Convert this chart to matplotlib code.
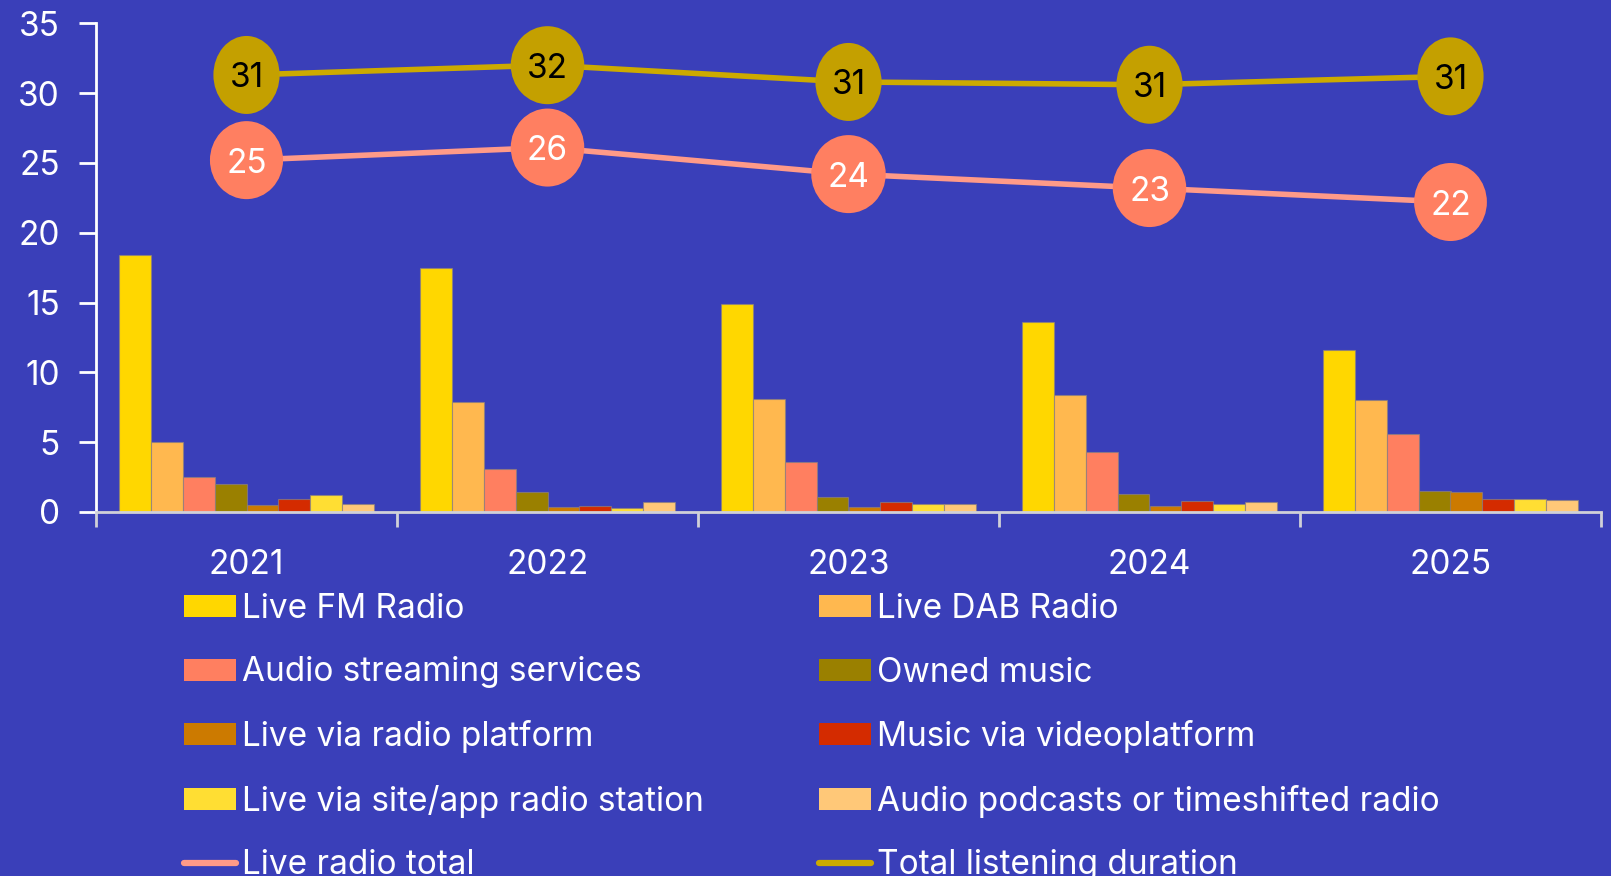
import matplotlib
matplotlib.use("Agg")
import matplotlib.pyplot as plt
import numpy as np
from matplotlib import transforms
from matplotlib.patches import Patch, Ellipse
from matplotlib.lines import Line2D
from matplotlib.textpath import TextPath
from matplotlib.font_manager import FontProperties

# data (hours per week)
years = ["2021", "2022", "2023", "2024", "2025"]
live_fm = [18.4, 17.5, 14.9, 13.6, 11.6]
live_dab = [5.0, 7.9, 8.1, 8.4, 8.0]
streaming = [2.5, 3.1, 3.6, 4.3, 5.6]
owned_music = [2.0, 1.4, 1.1, 1.3, 1.5]
radio_platform = [0.5, 0.35, 0.35, 0.4, 1.4]
video_platform = [0.9, 0.45, 0.75, 0.8, 0.9]
site_app = [1.2, 0.3, 0.6, 0.6, 0.9]
podcasts = [0.6, 0.75, 0.6, 0.7, 0.85]
live_radio_total = [25.2, 26.1, 24.2, 23.2, 22.2]
total_listening = [31.3, 32.0, 30.8, 30.6, 31.2]

bar_names = ["Live FM Radio", "Live DAB Radio", "Audio streaming services",
             "Owned music", "Live via radio platform", "Music via videoplatform",
             "Live via site/app radio station", "Audio podcasts or timeshifted radio"]
bar_values = [live_fm, live_dab, streaming, owned_music, radio_platform,
              video_platform, site_app, podcasts]
bar_colors = ["#FFD700", "#FFB84F", "#FF7F60", "#9A8000", "#CC7A00",
              "#D42B00", "#FFDE33", "#FFC878"]

BG = "#3A3FB9"
FS = 24
FONT = ["Inter", "DejaVu Sans"]
plt.rcParams["font.family"] = FONT

W, H = 1611, 876
fig = plt.figure(figsize=(W / 100, H / 100), dpi=100, facecolor=BG)
ax = fig.add_axes([96 / W, 1 - 512 / H, (1601 - 96) / W, (512 - 23.3) / H])
ax.set_facecolor(BG)

x = np.arange(len(years))
n = len(bar_values)
bw = 0.1055
for i, (vals, col) in enumerate(zip(bar_values, bar_colors)):
    ax.bar(x + (i - (n - 1) / 2) * bw, vals, width=bw, color=col,
           edgecolor=(0.55, 0.5, 0.5, 0.7), linewidth=0.8, zorder=2)

live_line = "#FF9A88"
total_line = "#CCAA00"
ax.plot(x, live_radio_total, color=live_line, lw=4, zorder=3)
ax.plot(x, total_listening, color=total_line, lw=4, zorder=3)

ax.set_xlim(-0.5, 4.5)
ax.set_ylim(0, 35)

fp = FontProperties(family=FONT[0])


def bubble(xv, yv, face, txtcol):
    label = str(int(round(yv)))
    ax.text(xv, yv, label, ha="center", va="center_baseline",
            fontsize=FS, color=txtcol, zorder=6)
    # ellipse width follows the ink width of the digits
    ink = TextPath((0, 0), label, size=FS * fig.dpi / 72, prop=fp).get_extents()
    tr = fig.dpi_scale_trans + transforms.ScaledTranslation(xv, yv, ax.transData)
    ax.add_patch(Ellipse((0, 0), (ink.width + 37) / fig.dpi, 78 / fig.dpi,
                         transform=tr, facecolor=face, edgecolor="none", zorder=5))


for xv, yv in zip(x, total_listening):
    bubble(xv, yv, "#C4A000", "black")
for xv, yv in zip(x, live_radio_total):
    bubble(xv, yv, "#FF7F61", "white")

ax.set_yticks(range(0, 36, 5))
ax.set_xticks(np.arange(-0.5, 5, 1))
ax.set_xticklabels([])
ax.set_xticks(x, minor=True)
ax.set_xticklabels(years, minor=True)
ax.tick_params(axis="x", which="major", length=11, width=2, color="#D0D0D8")
ax.tick_params(axis="x", which="minor", length=0, pad=27, labelsize=FS, labelcolor="white")
ax.tick_params(axis="y", length=12, width=2, color="white", pad=14,
               labelsize=FS, labelcolor="white")
for s in ["top", "right"]:
    ax.spines[s].set_visible(False)
ax.spines["left"].set_color("white")
ax.spines["left"].set_linewidth(2)
ax.spines["bottom"].set_color("#D0D0D8")
ax.spines["bottom"].set_linewidth(2)

# legend: two columns placed separately
patches = [Patch(facecolor=c, edgecolor="none") for c in bar_colors]
live_h = Line2D([], [], color=live_line, lw=4.5, solid_capstyle="round")
total_h = Line2D([], [], color=total_line, lw=4.5, solid_capstyle="round")
left_h = [patches[0], patches[2], patches[4], patches[6], live_h]
left_l = [bar_names[0], bar_names[2], bar_names[4], bar_names[6], "Live radio total"]
right_h = [patches[1], patches[3], patches[5], patches[7], total_h]
right_l = [bar_names[1], bar_names[3], bar_names[5], bar_names[7], "Total listening duration"]

opts = dict(frameon=False, fontsize=FS, labelcolor="white", handlelength=1.56,
            handleheight=0.63, handletextpad=0.17, labelspacing=0.945,
            borderpad=0, borderaxespad=0, loc="upper left")
fig.legend(left_h, left_l, bbox_to_anchor=(184 / W, 1 - 593 / H), **opts)
fig.legend(right_h, right_l, bbox_to_anchor=(819 / W, 1 - 593 / H), **opts)

fig.savefig("out.png", dpi=100, facecolor=BG)
